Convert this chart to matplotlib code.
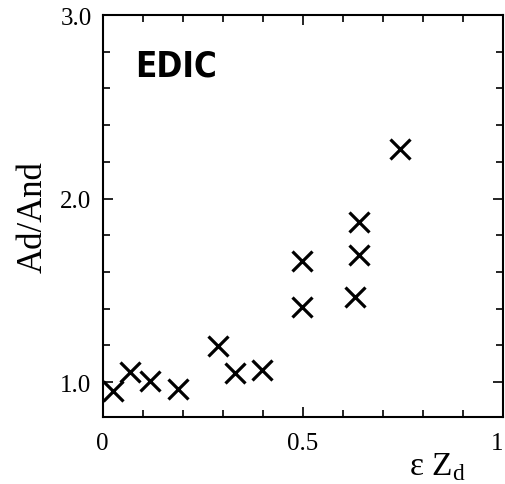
import matplotlib
matplotlib.use("Agg")
import matplotlib.pyplot as plt
from matplotlib.ticker import MultipleLocator, FixedLocator

plt.rcParams['font.family'] = ['Liberation Serif', 'DejaVu Serif']
plt.rcParams['mathtext.fontset'] = 'custom'
plt.rcParams['mathtext.rm'] = 'Liberation Serif'

# datos
eps_zd = [0.026, 0.068, 0.118, 0.189, 0.289, 0.330, 0.399,
          0.499, 0.499, 0.639, 0.639, 0.630, 0.743]
ratio = [0.953, 1.053, 1.007, 0.962, 1.198, 1.049, 1.065,
         1.661, 1.407, 1.873, 1.692, 1.465, 2.271]

xticks = [0, 0.5, 1]
xtick_labels = ['0', '0.5', '1']
yticks = [1.0, 2.0, 3.0]
ytick_labels = ['1.0', '2.0', '3.0']

fig = plt.figure(figsize=(5.05, 4.85), dpi=100)
ax = fig.add_axes([0.2034, 0.138, 0.7927, 0.829])

ax.plot(eps_zd, ratio, linestyle='none', marker='x', markersize=15,
        markeredgewidth=2.3, color='black')

ax.set_xlim(0, 1)
ax.set_ylim(0.81, 3.0)

ax.xaxis.set_major_locator(FixedLocator(xticks))
ax.set_xticklabels(xtick_labels)
ax.xaxis.set_minor_locator(MultipleLocator(0.1))
ax.yaxis.set_major_locator(FixedLocator(yticks))
ax.set_yticklabels(ytick_labels)
ax.yaxis.set_minor_locator(MultipleLocator(0.2))

ax.tick_params(which='both', direction='in', top=True, right=True,
               width=1.2, labelsize=18)
ax.tick_params(axis='x', pad=11)
ax.tick_params(axis='y', pad=8)
ax.tick_params(which='major', length=7)
ax.tick_params(which='minor', length=5)
for s in ax.spines.values():
    s.set_linewidth(1.5)

# el "1" queda pegado al borde, alinearlo a la derecha para que no se corte
ax.get_xticklabels()[-1].set_horizontalalignment('right')

ax.set_ylabel('Ad/And', fontsize=25, labelpad=8)
fig.text(0.865, 0.037, r'ε Z$_\mathrm{d}$', fontsize=24, ha='center', va='center')

ax.text(0.082, 0.875, 'EDIC', transform=ax.transAxes, fontsize=25,
        fontweight='bold', fontstretch='condensed',
        family=['DejaVu Sans'], ha='left', va='center')

fig.savefig('out.png', dpi=100)
